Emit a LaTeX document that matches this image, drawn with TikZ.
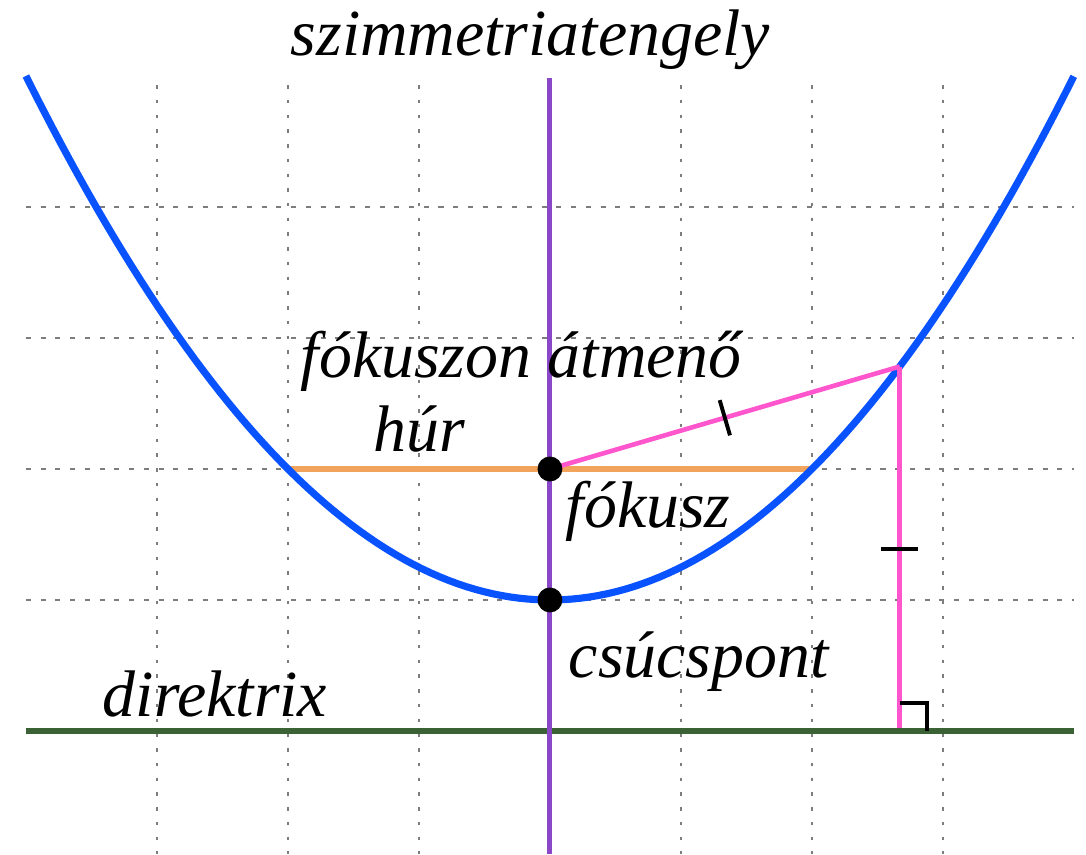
\documentclass[tikz,border=0pt]{standalone}
\usepackage{fontspec}
\setmainfont{Liberation Serif}
\usetikzlibrary{calc}
\definecolor{curveblue}{RGB}{8,82,255}
\definecolor{chordorange}{RGB}{242,163,92}
\definecolor{linkpink}{RGB}{255,85,205}
\definecolor{axispurple}{RGB}{138,72,200}
\definecolor{dirgreen}{RGB}{58,98,52}
\definecolor{gridgray}{RGB}{125,125,125}
\tikzset{
  gridv/.style={gridgray, line width=0.5pt, dash pattern=on 0.75pt off 2.45pt},
  gridh/.style={gridgray, line width=0.5pt, dash pattern=on 1.1pt off 2.1pt},
  parab/.style={curveblue, line width=1.55pt},
  chord/.style={chordorange, line width=1.3pt},
  pinkline/.style={linkpink, line width=1pt},
  axisline/.style={axispurple, line width=1.1pt},
  dirline/.style={dirgreen, line width=1.5pt},
  tickmark/.style={black, line width=0.85pt},
  dotpt/.style={circle, fill=black, inner sep=0pt, minimum size=0.19cm},
  lbl/.style={font=\fontsize{14.3}{17}\selectfont\itshape, inner sep=0pt, anchor=base west}
}
\begin{document}
\begin{tikzpicture}[x=1cm,y=1cm]
\useasboundingbox (-4.198,-1.939) rectangle (4.092,4.580);
% grid
\foreach \gx in {-3,-2,-1,1,2,3} {
  \draw[gridv] (\gx,3.93) -- (\gx,-1.939);
}
\foreach \gy in {0,1,2,3} {
  \draw[gridh] (-4,\gy) -- (4,\gy);
}
% key points
\coordinate (V) at (0,0);
\coordinate (F) at (0,1);
\coordinate (A) at (-2,1);
\coordinate (B) at (2,1);
\coordinate (P) at (2.67,1.7822);
\coordinate (Q) at (2.67,-1);
\coordinate (AxT) at (0,3.985);
\coordinate (AxB) at (0,-1.939);
\coordinate (DL) at (-4,-1);
\coordinate (DR) at (4,-1);
% chord
\draw[chord] (A) -- (B);
% parabola
\draw[parab, line cap=butt] plot[domain=-4:4, samples=120] (\x,{\x*\x/4});
% pink segments
\draw[pinkline] (F) -- (P);
\draw[pinkline] (P) -- (Q);
% directrix and axis
\draw[dirline] (DL) -- (DR);
\draw[axisline] (AxT) -- (AxB);
% tick marks
\coordinate (M1) at ($(F)!0.5!(P)$);
\draw[tickmark] ($(M1)!0.14cm!90:(P)$) -- ($(M1)!0.14cm!-90:(P)$);
\coordinate (M2) at ($(P)!0.5!(Q)$);
\draw[tickmark] ($(M2)+(-0.14,0)$) -- ($(M2)+(0.14,0)$);
% right angle
\draw[tickmark] ($(Q)+(0,0.215)$) -- ($(Q)+(0.21,0.215)$) -- ($(Q)+(0.21,0)$);
% points
\node[dotpt] (Fd) at (F) {};
\node[dotpt] (Vd) at (V) {};
% labels
\node[lbl] (tAxis) at (-1.985,4.160) {szimmetriatengely};
\node[lbl] (tHur1) at (-1.908,1.702) {fókuszon átmenő};
\node[lbl] (tHur2) at (-1.351,1.130) {húr};
\node[lbl] (tFoc) at (0.115,0.557) {fókusz};
\node[lbl] (tVert) at (0.137,-0.588) {csúcspont};
\node[lbl] (tDir) at (-3.42,-0.893) {direktrix};
\end{tikzpicture}
\end{document}
